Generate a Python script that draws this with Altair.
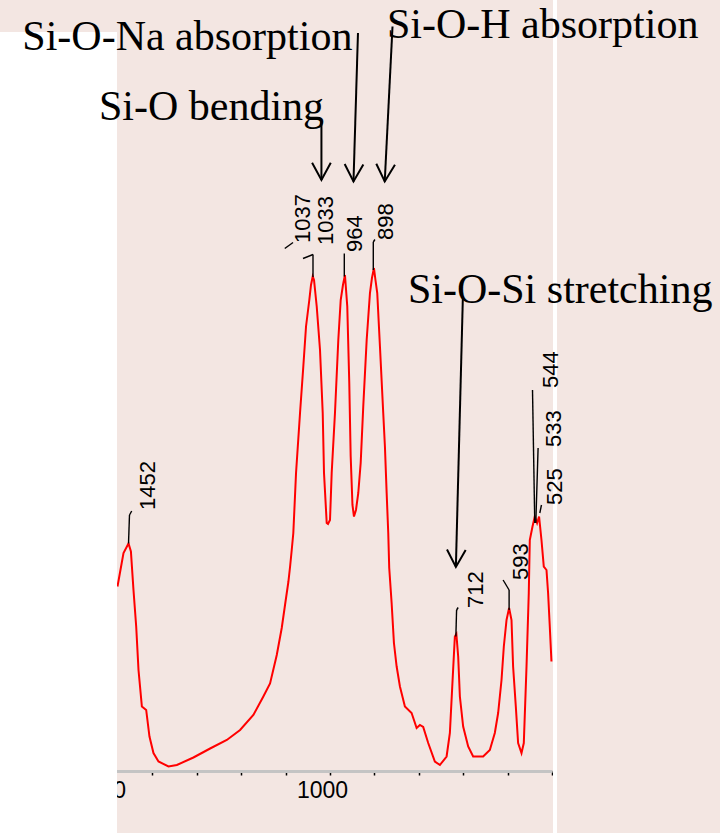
import altair as alt
import pandas as pd

# ---------------- data ----------------
wavenumber = [1478.6, 1465.1, 1453.8, 1448.4, 1442.6, 1436.5, 1431.3, 1423.7, 1414.0, 1406.6,
              1397.6, 1386.3, 1363.8, 1344.9, 1307.6, 1270.0, 1232.4, 1202.5, 1172.6, 1150.1,
              1135.0, 1119.9, 1108.7, 1101.3, 1093.8, 1090.0, 1086.2, 1082.6, 1076.5, 1067.5,
              1060.1, 1054.0, 1046.6, 1042.8, 1038.9, 1036.0, 1029.9, 1022.5, 1016.4, 1013.5,
              1007.4, 1004.5, 1000.0, 996.2, 988.8, 981.3, 975.9, 970.8, 966.3, 961.1,
              956.6, 953.4, 949.4, 946.0, 941.5, 936.3, 930.9, 925.1, 917.4, 910.0,
              905.5, 901.0, 897.6, 893.6, 887.5, 880.1, 876.3, 872.4, 868.8, 866.6,
              861.2, 856.0, 849.9, 842.5, 831.3, 816.2, 804.9, 797.5, 790.1, 778.8,
              763.8, 752.5, 737.4, 730.0, 723.9, 718.8, 715.4, 711.3, 707.5, 700.1,
              688.8, 677.6, 655.1, 640.0, 628.8, 621.3, 613.7, 608.5, 602.4, 596.6,
              591.2, 587.6, 581.5, 576.3, 568.7, 563.5, 557.4, 552.3, 550.0, 543.9,
              538.8, 533.6, 529.1, 523.7, 518.5, 512.4, 508.8, 505.0, 501.2]
absorbance = [36.9, 43.6, 45.5, 43.9, 36.2, 28.9, 20.2, 12.9, 12.2, 6.9,
              3.6, 1.9, 0.9, 1.2, 2.7, 4.5, 6.2, 8.2, 11.2, 14.9,
              17.5, 23.2, 28.6, 33.2, 37.8, 40.8, 44.2, 47.6, 59.6, 71.6,
              80.9, 88.9, 94.2, 97.2, 98.9, 98.2, 92.9, 84.2, 71.6, 59.6,
              49.6, 49.4, 50.2, 59.6, 71.6, 86.2, 94.2, 97.2, 99.2, 92.9,
              77.6, 62.9, 53.2, 50.9, 52.2, 55.6, 61.6, 72.9, 86.2, 95.6,
              98.6, 100.6, 98.2, 95.6, 84.9, 71.6, 64.9, 55.6, 47.6, 40.6,
              33.6, 25.6, 20.9, 16.9, 12.9, 11.6, 8.6, 9.2, 8.8, 5.6,
              1.9, 1.2, 2.9, 7.6, 18.2, 26.9, 27.4, 22.9, 14.9, 8.9,
              4.9, 2.9, 2.9, 4.2, 7.6, 11.6, 18.2, 24.9, 30.2, 32.6,
              30.2, 20.9, 12.9, 5.6, 3.6, 5.6, 20.9, 35.6, 46.2, 48.9,
              50.9, 49.6, 50.9, 46.2, 40.9, 40.2, 35.6, 28.9, 21.9]

# peak labels and where their text sits (data units)
peak_labels = ["1452", "1037", "1033", "964", "898", "712", "593", "544", "533", "525"]
peak_label_wn = [1393.8, 1045.0, 992.6, 928.7, 857.6, 655.8, 554.5, 487.0, 479.1, 478.0]
peak_label_y = [52.2, 105.6, 105.2, 103.8, 106.2, 32.6, 38.2, 76.6, 64.8, 53.2]

# leader lines from peaks to labels (data units)
leader_wn1 = [1453.8, 1451.6, 1038.3, 1038.3, 1101.9, 967.8, 902.5, 902.5, 716.5, 714.9, 596.6, 596.6, 538.8, 536.5, 527.5]
leader_y1 = [45.5, 51.2, 98.8, 103.3, 104.5, 98.9, 100.2, 105.8, 26.9, 32.2, 32.2, 36.2, 49.6, 49.6, 51.6]
leader_wn2 = [1451.6, 1446.6, 1038.3, 1060.8, 1083.3, 967.8, 902.5, 898.8, 714.9, 711.3, 596.6, 610.1, 543.9, 531.3, 523.7]
leader_y2 = [51.2, 52.0, 103.3, 102.5, 105.7, 103.5, 105.8, 106.3, 32.2, 32.7, 36.2, 38.2, 76.2, 64.6, 53.2]

# band assignments
band_text = ["Si-O-Na absorption", "Si-O-H absorption", "Si-O bending", "Si-O-Si stretching"]
band_wn = [1693.0, 871.8, 1520.4, 824.5]
band_y = [144.2, 146.6, 130.2, 93.6]

# arrows pointing at the bands
arrow_wn1 = [1019.3, 937.0, 859.2, 700.8]
arrow_y1 = [129.9, 147.6, 148.9, 94.6]
arrow_wn2 = [1019.3, 947.1, 876.7, 716.5]
arrow_y2 = [118.2, 117.9, 117.9, 40.8]
arrow_tilt = [0.0, 1.7, 2.9, 1.5]

tick_values = [500, 600, 700, 800, 900, 1000, 1100, 1200, 1300, 1400, 1500]

# ---------------- tables ----------------
spec_df = pd.DataFrame({"wn": wavenumber, "a": absorbance})
lab_df = pd.DataFrame({"t": peak_labels, "wn": peak_label_wn, "y": peak_label_y})
lead_df = pd.DataFrame({"wn1": leader_wn1, "y1": leader_y1, "wn2": leader_wn2, "y2": leader_y2})
band_df = pd.DataFrame({"t": band_text, "wn": band_wn, "y": band_y})
arr_df = pd.DataFrame({"wn1": arrow_wn1, "y1": arrow_y1, "wn2": arrow_wn2, "y2": arrow_y2, "ang": arrow_tilt})
one = pd.DataFrame({"k": [0]})

xs = alt.Scale(domain=[500, 1500], reverse=True, nice=False, zero=False)
ys = alt.Scale(domain=[0, 150], nice=False, zero=False)

W, H = 444, 750

x_axis = alt.Axis(
    values=tick_values, format="d", title=None, grid=False, zindex=0,
    labelExpr="datum.value == 1000 || datum.value == 1500 ? datum.label : ''",
    labelFont="Liberation Sans", labelFontSize=23, labelColor="black",
    labelOffset=-8, labelPadding=4, labelOverlap=False, labelFlush=False,
    domainColor="#c4c4c4", domainWidth=3, tickColor="black", tickWidth=1.5, tickSize=4,
)


def X(field):
    return alt.X(field, scale=xs, axis=x_axis, title=None)


def Y(field):
    return alt.Y(field, scale=ys, axis=None, title=None)


spectrum = alt.Chart(spec_df).mark_line(color="#ff0000", strokeWidth=2, interpolate="linear").encode(
    x=X("wn:Q"), y=Y("a:Q"),
)

white_panel = alt.Chart(one).mark_rect(color="white").encode(
    x=alt.value(-108), x2=alt.value(9), y=alt.value(11), y2=alt.value(812)
)
white_strip = alt.Chart(one).mark_rect(color="white").encode(
    x=alt.value(445), x2=alt.value(449), y=alt.value(-21), y2=alt.value(812)
)

leaders = alt.Chart(lead_df).mark_rule(color="black", strokeWidth=1.4).encode(
    x=X("wn1:Q"), y=Y("y1:Q"), x2="wn2:Q", y2="y2:Q",
)

peak_text = alt.Chart(lab_df).mark_text(
    angle=270, align="left", baseline="alphabetic", color="black",
    font="Liberation Sans", fontSize=22,
).encode(
    x=X("wn:Q"), y=Y("y:Q"), text="t:N"
)

band_labels = alt.Chart(band_df).mark_text(
    align="left", baseline="alphabetic", color="black",
    font="Liberation Serif, Times New Roman, serif", fontSize=42,
).encode(
    x=X("wn:Q"), y=Y("y:Q"), text="t:N"
)

arrow_shafts = alt.Chart(arr_df).mark_rule(color="black", strokeWidth=2).encode(
    x=X("wn1:Q"), y=Y("y1:Q"), x2="wn2:Q", y2="y2:Q",
)
arrow_heads = alt.Chart(arr_df).mark_point(
    shape="M -0.54 -1 L 0 0 L 0.54 -1", filled=False, color="black", strokeWidth=2, size=1197, opacity=1,
).encode(
    x=X("wn2:Q"), y=Y("y2:Q"),
    angle=alt.Angle("ang:Q", scale=None),
)

chart = alt.layer(
    spectrum, white_panel, white_strip, leaders, peak_text, band_labels, arrow_shafts, arrow_heads
).properties(
    width=W, height=H,
    background="#f3e6e2",
    padding={"left": 108, "top": 21, "right": 168, "bottom": 62},
    autosize=alt.AutoSizeParams(type="none"),
).configure_view(stroke=None)

chart.save("out.html", embed_options={"renderer": "svg", "actions": False})
